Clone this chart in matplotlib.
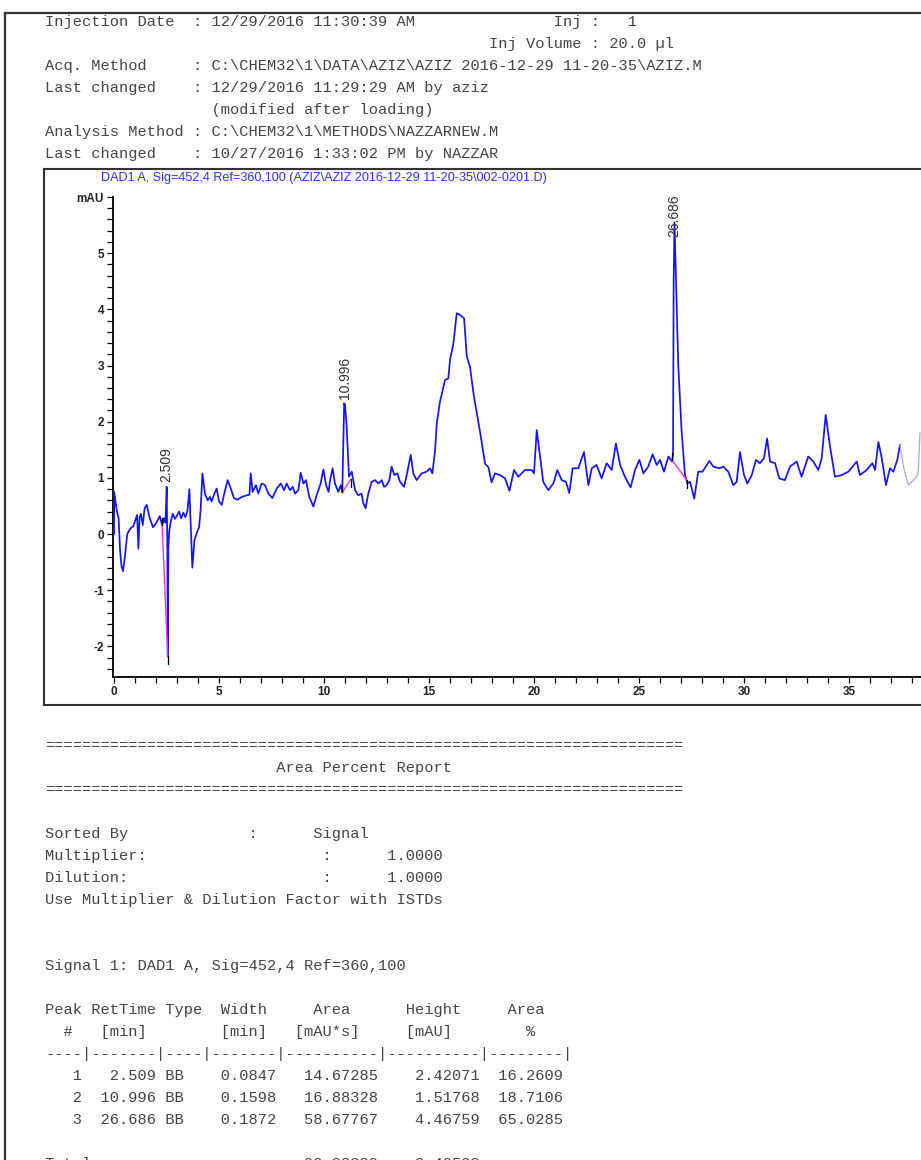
import numpy as np
import matplotlib
matplotlib.use("Agg")
import matplotlib.pyplot as plt
from matplotlib.lines import Line2D
from matplotlib.ticker import FixedLocator, MultipleLocator

W, H = 921, 1160  # output size in pixels (dpi 100)

# chromatogram trace (min, mAU)
time_min = [
    0.00, 0.01, 0.13, 0.22, 0.29, 0.36, 0.43, 0.52, 0.63, 0.78,
    0.92, 1.02, 1.10, 1.16, 1.22, 1.28, 1.37, 1.46, 1.56, 1.66,
    1.76, 1.86, 2.00, 2.10, 2.18, 2.29, 2.38, 2.45, 2.51, 2.54,
    2.56, 2.59, 2.63, 2.70, 2.80, 2.90, 3.00, 3.10, 3.20, 3.30,
    3.40, 3.50, 3.59, 3.65, 3.73, 3.83, 3.94, 4.05, 4.12, 4.21,
    4.33, 4.46, 4.57, 4.65, 4.78, 4.89, 5.00, 5.13, 5.25, 5.41,
    5.56, 5.71, 5.87, 6.08, 6.32, 6.45, 6.51, 6.60, 6.76, 6.87,
    7.03, 7.19, 7.35, 7.54, 7.75, 7.94, 8.10, 8.22, 8.38, 8.51,
    8.62, 8.78, 8.89, 9.02, 9.14, 9.30, 9.49, 9.65, 9.84, 9.97,
    10.10, 10.22, 10.29, 10.41, 10.52, 10.68, 10.79, 10.87, 10.96, 11.00,
    11.08, 11.19, 11.32, 11.48, 11.63, 11.79, 11.87, 11.98, 12.11, 12.27,
    12.43, 12.59, 12.75, 12.86, 12.98, 13.11, 13.22, 13.35, 13.49, 13.62,
    13.81, 13.94, 14.13, 14.25, 14.41, 14.65, 14.89, 15.05, 15.16, 15.29,
    15.37, 15.52, 15.76, 15.92, 16.00, 16.16, 16.32, 16.48, 16.67, 16.80,
    16.95, 17.14, 17.43, 17.67, 17.83, 17.98, 18.14, 18.38, 18.62, 18.83,
    19.05, 19.25, 19.57, 19.89, 20.00, 20.13, 20.25, 20.44, 20.68, 20.92,
    21.11, 21.32, 21.52, 21.68, 21.84, 22.11, 22.38, 22.59, 22.75, 22.98,
    23.22, 23.46, 23.70, 23.90, 24.10, 24.33, 24.60, 24.81, 25.02, 25.21,
    25.44, 25.65, 25.84, 26.00, 26.19, 26.40, 26.57, 26.62, 26.65, 26.69,
    26.75, 26.87, 27.03, 27.19, 27.30, 27.43, 27.63, 27.82, 28.02, 28.35,
    28.54, 28.83, 29.02, 29.25, 29.49, 29.65, 29.81, 30.00, 30.16, 30.37,
    30.57, 30.76, 30.95, 31.10, 31.24, 31.48, 31.68, 31.95, 32.19, 32.51,
    32.74, 33.06, 33.30, 33.54, 33.70, 33.89, 34.10, 34.33, 34.65, 34.97,
    35.37, 35.52, 35.84, 36.11, 36.24, 36.40, 36.56, 36.76, 36.95, 37.11,
    37.30, 37.43,
]
signal_mau = [
    0.00, 0.75, 0.42, 0.28, -0.30, -0.58, -0.66, -0.40, 0.00, 0.10,
    0.14, 0.25, 0.34, -0.26, 0.30, 0.36, 0.16, 0.46, 0.52, 0.34,
    0.22, 0.12, 0.19, 0.26, 0.32, 0.16, 0.28, 0.20, 0.84, -0.25,
    -2.18, -0.25, 0.05, 0.22, 0.36, 0.27, 0.33, 0.40, 0.28, 0.38,
    0.30, 0.42, 0.80, 0.19, -0.60, -0.11, 0.02, 0.12, 0.40, 1.08,
    0.72, 0.60, 0.66, 0.58, 0.72, 0.81, 0.58, 0.52, 0.72, 0.96,
    0.81, 0.64, 0.61, 0.66, 0.69, 0.70, 1.08, 0.75, 0.87, 0.72,
    0.90, 0.87, 0.72, 0.64, 0.81, 0.90, 0.78, 0.90, 0.78, 0.84,
    0.72, 0.78, 1.09, 0.90, 0.96, 0.66, 0.49, 0.69, 0.90, 1.15,
    0.87, 0.75, 0.96, 1.17, 0.90, 0.75, 0.87, 0.74, 2.33, 2.30,
    1.91, 1.02, 1.11, 0.78, 0.69, 0.72, 0.55, 0.46, 0.72, 0.93,
    0.96, 0.90, 0.96, 0.84, 0.87, 0.96, 1.20, 1.05, 1.08, 0.93,
    0.84, 1.05, 1.41, 1.08, 0.96, 1.08, 1.11, 1.17, 1.08, 1.49,
    1.97, 2.35, 2.74, 2.77, 3.10, 3.39, 3.93, 3.90, 3.84, 3.16,
    2.98, 2.45, 1.82, 1.25, 1.19, 0.92, 1.08, 1.05, 0.99, 0.77,
    1.14, 1.02, 1.14, 1.14, 1.08, 1.85, 1.49, 0.93, 0.78, 0.90,
    1.14, 0.96, 0.93, 0.73, 1.17, 1.17, 1.46, 0.87, 1.17, 1.23,
    0.99, 1.26, 1.14, 1.61, 1.23, 1.02, 0.83, 1.14, 1.32, 1.08,
    1.20, 1.42, 1.23, 1.32, 1.11, 1.38, 1.29, 1.40, 4.50, 5.55,
    4.70, 3.00, 1.82, 1.05, 0.90, 0.93, 0.63, 1.11, 1.11, 1.30,
    1.20, 1.17, 1.20, 1.11, 0.87, 0.93, 1.46, 1.05, 0.90, 1.05,
    1.32, 1.26, 1.35, 1.70, 1.29, 1.26, 0.99, 0.96, 1.20, 1.29,
    1.02, 1.38, 1.29, 1.14, 1.35, 2.12, 1.55, 1.02, 1.05, 1.11,
    1.29, 1.05, 1.14, 1.26, 1.14, 1.64, 1.35, 0.87, 1.17, 1.11,
    1.32, 1.59,
]
# faint tail drawn after the end of integration
tail_time = [37.43, 37.62, 37.83, 38.05, 38.22, 38.30, 38.38]
tail_mau = [1.59, 1.15, 0.87, 0.95, 1.02, 1.12, 1.80]

# integration baselines (start / end of each peak)
base_start_t = [2.29, 10.87, 26.57]
base_start_v = [0.16, 0.74, 1.32]
base_end_t = [2.56, 11.28, 27.27]
base_end_v = [-2.18, 0.98, 0.96]

# area percent table
peak_no = [1, 2, 3]
ret_time = [2.509, 10.996, 26.686]
peak_type = ["BB", "BB", "BB"]
width_min = [0.0847, 0.1598, 0.1872]
area_mau_s = [14.67285, 16.88328, 58.67767]
height_mau = [2.42071, 1.51768, 4.46759]
area_pct = [16.2609, 18.7106, 65.0285]

header_lines = [
    "Injection Date  : 12/29/2016 11:30:39 AM" + " " * 15 + "Inj :   1",
    " " * 48 + "Inj Volume : 20.0 µl",
    "Acq. Method     : C:\\CHEM32\\1\\DATA\\AZIZ\\AZIZ 2016-12-29 11-20-35\\AZIZ.M",
    "Last changed    : 12/29/2016 11:29:29 AM by aziz",
    "                  (modified after loading)",
    "Analysis Method : C:\\CHEM32\\1\\METHODS\\NAZZARNEW.M",
    "Last changed    : 10/27/2016 1:33:02 PM by NAZZAR",
]

table_rows = [
    f"{n:4d} {rt:7.3f} {tp:<4s} {w:7.4f} {a:10.5f} {h:10.5f} {p:8.4f}"
    for n, rt, tp, w, a, h, p in zip(peak_no, ret_time, peak_type, width_min,
                                     area_mau_s, height_mau, area_pct)
]
report_lines = [
    "=" * 69,
    " " * 25 + "Area Percent Report",
    "=" * 69,
    "",
    "Sorted By             :      Signal",
    "Multiplier:                   :      1.0000",
    "Dilution:                     :      1.0000",
    "Use Multiplier & Dilution Factor with ISTDs",
    "",
    "",
    "Signal 1: DAD1 A, Sig=452,4 Ref=360,100",
    "",
    "Peak RetTime Type  Width     Area      Height     Area  ",
    "  #   [min]        [min]   [mAU*s]     [mAU]        %   ",
    "----|-------|----|-------|----------|----------|--------|",
] + table_rows + [
    "",
    f"{'Totals :':<26s}{sum(area_mau_s):10.5f} {sum(height_mau):10.5f}",
]

fig = plt.figure(figsize=(W / 100, H / 100), dpi=100)
fig.patch.set_facecolor("white")


def fx(x):
    return x / W


def fy(y):
    return 1 - y / H


def put(x, y, s, **kw):
    fig.text(fx(x), fy(y), s, **kw)


def hline(x0, x1, y, **kw):
    fig.add_artist(Line2D([fx(x0), fx(x1)], [fy(y), fy(y)], transform=fig.transFigure, **kw))


def vline(x, y0, y1, **kw):
    fig.add_artist(Line2D([fx(x), fx(x)], [fy(y0), fy(y1)], transform=fig.transFigure, **kw))


mono = dict(family="Liberation Mono", fontsize=11.1, color="#444444", va="center", ha="left")
for i, s in enumerate(header_lines):
    put(45, 22 + 22 * i, s, **mono)
for i, s in enumerate(report_lines):
    if s:
        put(45, 746 + 22 * i, s, **mono)

# page frame and chart frame
hline(5, W + 5, 13, color="#333333", lw=1.6)
vline(5, 13, H + 5, color="#333333", lw=1.6)
hline(44, W + 5, 169, color="#333333", lw=1.5)
hline(44, W + 5, 705, color="#333333", lw=1.5)
vline(44, 169, 705, color="#333333", lw=1.5)

put(101, 178, "DAD1 A, Sig=452,4 Ref=360,100 (AZIZ\\AZIZ 2016-12-29 11-20-35\\002-0201.D)",
    family="Liberation Sans", fontsize=9.1, color="#3030ff", va="center", ha="left")

# chromatogram axes (right part runs off the page like the scan)
px_per_min = 21.0
ax = fig.add_axes([fx(113), fy(677), (960 - 113) / W, (677 - 197) / H])
ax.patch.set_alpha(0)
x0 = -1 / px_per_min
ax.set_xlim(x0, x0 + (960 - 113) / px_per_min)
ax.set_ylim(-2.545, 6.0)

ax.plot(time_min, signal_mau, color="#1414ff", lw=1.25, zorder=3)
ax.plot(tail_time, tail_mau, color="#a8a8ff", lw=0.9, zorder=3)

for st, sv, et, ev in zip(base_start_t, base_start_v, base_end_t, base_end_v):
    ax.plot([st, et], [sv, ev], color="#ff30d0", lw=1.0, zorder=4)
    ax.plot([st, st], [sv, sv + 0.12], color="black", lw=0.9, zorder=5)
    ax.plot([et, et], [ev, ev - 0.14], color="black", lw=0.9, zorder=5)

t_arr = np.array(time_min)
s_arr = np.array(signal_mau)
for rt in ret_time:
    apex = s_arr[np.abs(t_arr - rt) < 0.06].max()
    ax.text(rt, min(apex + 0.08, 5.28), f"{rt:.3f}", rotation=90, ha="center", va="bottom",
            family="Liberation Sans", fontsize=10, color="#333333", clip_on=False, zorder=6)

ax.xaxis.set_major_locator(FixedLocator(list(range(0, 36, 5))))
ax.xaxis.set_minor_locator(MultipleLocator(1))
yt = list(range(-2, 7))
ax.yaxis.set_major_locator(FixedLocator(yt))
ax.set_yticklabels([str(v) for v in yt[:-1]] + ["mAU"])
ax.yaxis.set_minor_locator(MultipleLocator(0.2))
ax.tick_params(which="both", direction="out", length=4, width=0.9, color="black")
ax.tick_params(which="major", labelsize=8.5, pad=2.5, labelcolor="#222222")
for lab in ax.get_xticklabels() + ax.get_yticklabels():
    lab.set_family("Liberation Sans")
    lab.set_fontweight("bold")

for side in ("top", "right"):
    ax.spines[side].set_visible(False)
for side in ("left", "bottom"):
    ax.spines[side].set_linewidth(1.3)

fig.savefig("out.png", dpi=100)
